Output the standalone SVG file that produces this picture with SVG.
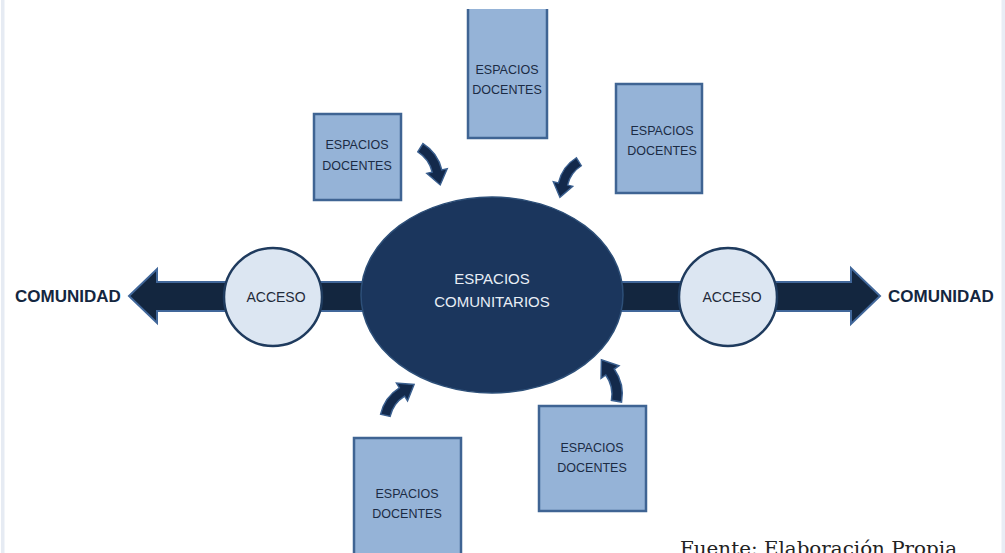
<svg xmlns="http://www.w3.org/2000/svg" width="1005" height="553" viewBox="0 0 1005 553">
<style>
.doc{fill:#95b3d7;stroke:#3f6493;stroke-width:2.5}
.doct{font-family:"Liberation Sans",Arial,sans-serif;font-size:12.5px;fill:#1b2b44;text-anchor:middle}
.acc{fill:#dce6f2;stroke:#1f3b5e;stroke-width:2.5}
.acct{font-family:"Liberation Sans",Arial,sans-serif;font-size:14px;fill:#1f2a3a;text-anchor:middle}
.com{font-family:"Liberation Sans",Arial,sans-serif;font-size:17px;font-weight:bold;fill:#14263f}
.carrow{fill:#13294b;stroke:#3a5f8f;stroke-width:1.3;stroke-linejoin:miter}
</style>
<defs>
<path id="ca" d="M-27.2,6.8 A38.5,38.5 0 0 1 0,-4.5 L0,-9.5 L13,0 L0,9.5 L0,4.5 A29.5,29.5 0 0 0 -20.9,13.1 Z"/>
</defs>
<rect x="0" y="0" width="1005" height="553" fill="#ffffff"/>
<rect x="1" y="0" width="3.5" height="553" fill="#e6ebf3"/>
<rect x="1001.5" y="0" width="3.5" height="553" fill="#e8edf5"/>
<g id="connectors">
<path d="M129,296 L157,269 L157,282 L851,282 L851,268 L880,296 L851,324 L851,311 L157,311 L157,323 Z" fill="#13263f" stroke="#41679a" stroke-width="2"/>
<use href="#ca" class="carrow" transform="translate(437,171) rotate(77) scale(1.1)"/>
<use href="#ca" class="carrow" transform="translate(563,184) rotate(103) scale(1.05,-1.05)"/>
<use href="#ca" class="carrow" transform="translate(402,392) rotate(-32) scale(1.1)"/>
<use href="#ca" class="carrow" transform="translate(610,372) rotate(-125) scale(1.15,-1.15)"/>
</g>
<g id="acceso-left">
<circle class="acc" cx="273" cy="297" r="49"/>
<text class="acct" x="276" y="302">ACCESO</text>
</g>
<g id="acceso-right">
<circle class="acc" cx="728" cy="297" r="49"/>
<text class="acct" x="732" y="302">ACCESO</text>
</g>
<g id="espacios-comunitarios">
<ellipse cx="492" cy="295" rx="131" ry="98" fill="#1b365d" stroke="#2d4f78" stroke-width="1.5"/>
<text font-family="Liberation Sans, Arial, sans-serif" font-size="15" fill="#e8eef6" text-anchor="middle"><tspan x="492" y="284">ESPACIOS</tspan><tspan x="492" y="307">COMUNITARIOS</tspan></text>
</g>
<g id="comunidad-left"><text class="com" x="15" y="302">COMUNIDAD</text></g>
<g id="comunidad-right"><text class="com" x="888" y="302">COMUNIDAD</text></g>
<g id="docentes-1">
<rect class="doc" x="314" y="114" width="87" height="86"/>
<text class="doct"><tspan x="357" y="149">ESPACIOS</tspan><tspan x="357" y="170">DOCENTES</tspan></text>
</g>
<g id="docentes-2">
<rect x="468" y="9" width="79" height="129" fill="#95b3d7"/>
<path d="M468,9 L468,138 L547,138 L547,9" fill="none" stroke="#3f6493" stroke-width="2.5"/>
<text class="doct"><tspan x="507" y="74">ESPACIOS</tspan><tspan x="507" y="94">DOCENTES</tspan></text>
</g>
<g id="docentes-3">
<rect class="doc" x="616" y="84" width="86" height="109"/>
<text class="doct"><tspan x="662" y="135">ESPACIOS</tspan><tspan x="662" y="155">DOCENTES</tspan></text>
</g>
<g id="docentes-4">
<rect class="doc" x="539" y="406" width="107" height="105"/>
<text class="doct"><tspan x="592" y="452">ESPACIOS</tspan><tspan x="592" y="472">DOCENTES</tspan></text>
</g>
<g id="docentes-5">
<rect class="doc" x="354" y="438" width="107" height="125"/>
<text class="doct"><tspan x="407" y="498">ESPACIOS</tspan><tspan x="407" y="518">DOCENTES</tspan></text>
</g>
<g id="fuente"><text x="680" y="555" font-family="DejaVu Serif, Liberation Serif, serif" font-size="19" fill="#222222" textLength="277" lengthAdjust="spacingAndGlyphs">Fuente: Elaboración Propia</text></g>
</svg>
